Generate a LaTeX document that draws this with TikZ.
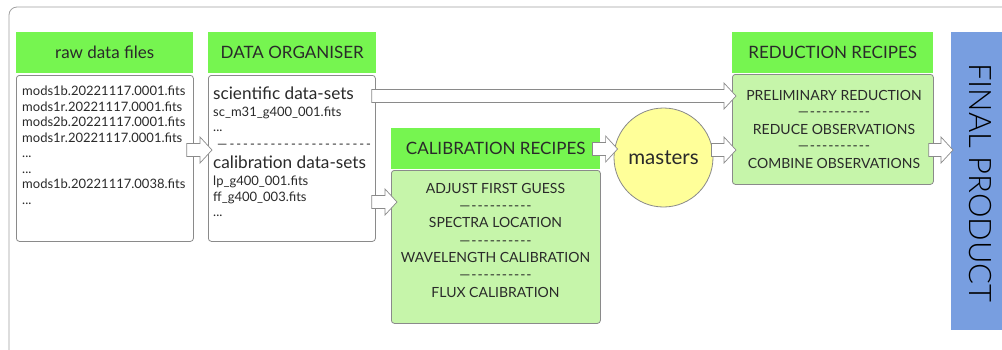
\documentclass[tikz,border=0pt]{standalone}
\usepackage{fontspec}
\setmainfont{Lato}
\newfontfamily\lightfont{Lato Light}
\usetikzlibrary{calc}
\definecolor{hdrgreen}{HTML}{76F550}
\definecolor{boxgreen}{HTML}{C6F5AA}
\definecolor{mastyellow}{HTML}{FFFF99}
\definecolor{finalblue}{HTML}{789EE0}
\definecolor{linegray}{HTML}{8A8A8A}
\definecolor{framegray}{HTML}{A0A0A0}
\definecolor{txt}{HTML}{2A2A2A}
\newcommand\dashrow[2]{—\foreach\i in {1,...,#1}{\kern#2-}}
\newcommand\tdots{...}
\tikzset{
  hdr/.style={fill=hdrgreen, draw=none, anchor=north west, inner sep=0pt,
    font=\fontsize{17}{20}\selectfont, text=txt},
  listbox/.style={draw=linegray, line width=0.8pt, rounded corners=3pt, anchor=north west, inner sep=0pt},
  small/.style={font=\fontsize{13}{15}\selectfont, text=txt, inner sep=0pt, anchor=base west},
  big/.style={font=\fontsize{17.2}{20}\selectfont, text=txt, inner sep=0pt, anchor=base west},
  recipe/.style={font=\fontsize{14}{16}\selectfont, text=txt, inner sep=0pt, anchor=base},
  barrow/.style={draw=linegray, fill=white, line width=0.7pt,
    to path={let \p1=(\tikztostart), \p2=(\tikztotarget) in
      (\x1,\y1-6.5pt) -- (\x2-12pt,\y1-6.5pt) -- (\x2-12pt,\y1-13pt) -- (\x2,\y1)
      -- (\x2-12pt,\y1+13pt) -- (\x2-12pt,\y1+6.5pt) -- (\x1,\y1+6.5pt) -- cycle}},
}
\begin{document}
\begin{tikzpicture}[x=1pt,y=-1pt]
\useasboundingbox (0,0) rectangle (1002,349);
\begin{scope}
\clip (0,0) rectangle (1002,349);
\draw[framegray, line width=0.8pt, rounded corners=8pt] (9,7) rectangle (1030,380);
% headers and boxes
\node[hdr, minimum width=177pt, minimum height=41pt] (rawhdr) at (16,32) {raw data files};
\node[listbox, fill=white, minimum width=177pt, minimum height=166pt] (rawbox) at (16,75) {};
\node[hdr, minimum width=168pt, minimum height=41pt] (orghdr) at (208,32) {DATA ORGANISER};
\node[listbox, fill=white, minimum width=167pt, minimum height=166pt] (orgbox) at (208,75) {};
\node[hdr, minimum width=209pt, minimum height=41pt] (calhdr) at (391,128) {CALIBRATION RECIPES};
\node[listbox, fill=boxgreen, minimum width=209pt, minimum height=153pt] (calbox) at (391,170) {};
\node[hdr, minimum width=201pt, minimum height=41pt] (redhdr) at (732,32) {REDUCTION RECIPES};
\node[listbox, fill=boxgreen, minimum width=201pt, minimum height=110pt] (redbox) at (732,74) {};
\node[fill=finalblue, anchor=north west, inner sep=0pt, minimum width=70pt, minimum height=298pt] (final) at (951,32) {};
\node[font=\lightfont\fontsize{31}{34}\selectfont, text=black, rotate=-90] (finaltxt) at (980.5,183) {FINAL PRODUCT};
\node[circle, draw=linegray, line width=0.8pt, fill=mastyellow, minimum size=99pt, inner sep=0pt,
      font=\fontsize{20.5}{24}\selectfont, text=txt] (masters) at (663.5,157.5) {masters};
% raw list
\foreach \t [count=\i from 0] in {mods1b.20221117.0001.fits, mods1r.20221117.0001.fits,
    mods2b.20221117.0001.fits, mods1r.20221117.0001.fits, \tdots, \tdots, mods1b.20221117.0038.fits, \tdots}
  \node[small] (raw\i) at (22,95.5+15.5*\i) {\t};
% organiser
\node[big] (sci) at (213,99) {scientific data-sets};
\node[small] (sci1) at (213,116) {sc\_m31\_g400\_001.fits};
\node[small] (sci2) at (213,131) {\tdots};
\node[small] (orgsep) at (217,148) {\dashrow{21}{2pt}};
\node[big] (cal) at (213,168) {calibration data-sets};
\node[small] (cal1) at (213,185) {lp\_g400\_001.fits};
\node[small] (cal2) at (213,201) {ff\_g400\_003.fits};
\node[small] (cal3) at (213,216) {\tdots};
% calibration recipes
\node[recipe] (c1) at (495.5,193) {ADJUST FIRST GUESS};
\node[recipe] (c1s) at (495.5,210.3) {\dashrow{10}{0.9pt}};
\node[recipe] (c2) at (495.5,227.6) {SPECTRA LOCATION};
\node[recipe] (c2s) at (495.5,245) {\dashrow{10}{0.9pt}};
\node[recipe] (c3) at (495.5,262.3) {WAVELENGTH CALIBRATION};
\node[recipe] (c3s) at (495.5,279.6) {\dashrow{10}{0.9pt}};
\node[recipe] (c4) at (495.5,297) {FLUX CALIBRATION};
% reduction recipes
\node[recipe] (r1) at (834,100) {PRELIMINARY REDUCTION};
\node[recipe] (r1s) at (834,116.5) {\dashrow{10}{0.9pt}};
\node[recipe] (r2) at (834,134) {REDUCE OBSERVATIONS};
\node[recipe] (r2s) at (834,150.5) {\dashrow{10}{0.9pt}};
\node[recipe] (r3) at (834,168) {COMBINE OBSERVATIONS};
% arrows
\coordinate (y96) at (0,96);
\coordinate (y149) at (0,149);
\coordinate (y150) at (0,150);
\coordinate (y202) at (0,202);
\draw[barrow] ($(rawbox.east|-y150)+(-7,0)$) to ($(orgbox.west|-y150)+(4,0)$);
\draw[barrow] ($(orgbox.east|-y96)+(-4,0)$) to ($(redbox.west|-y96)+(4,0)$);
\draw[barrow] ($(orgbox.east|-y202)+(-4,0)$) to ($(calbox.west|-y202)+(6,0)$);
\draw[barrow] ($(calhdr.east|-y149)+(-8,0)$) to ($(masters.west|-y149)+(4,0)$);
\draw[barrow] ($(masters.east|-y150)+(-2,0)$) to ($(redbox.west|-y150)+(4,0)$);
\draw[barrow] ($(redbox.east|-y150)+(-5,0)$) to ($(final.west|-y150)+(2,0)$);
\end{scope}
\end{tikzpicture}
\end{document}
